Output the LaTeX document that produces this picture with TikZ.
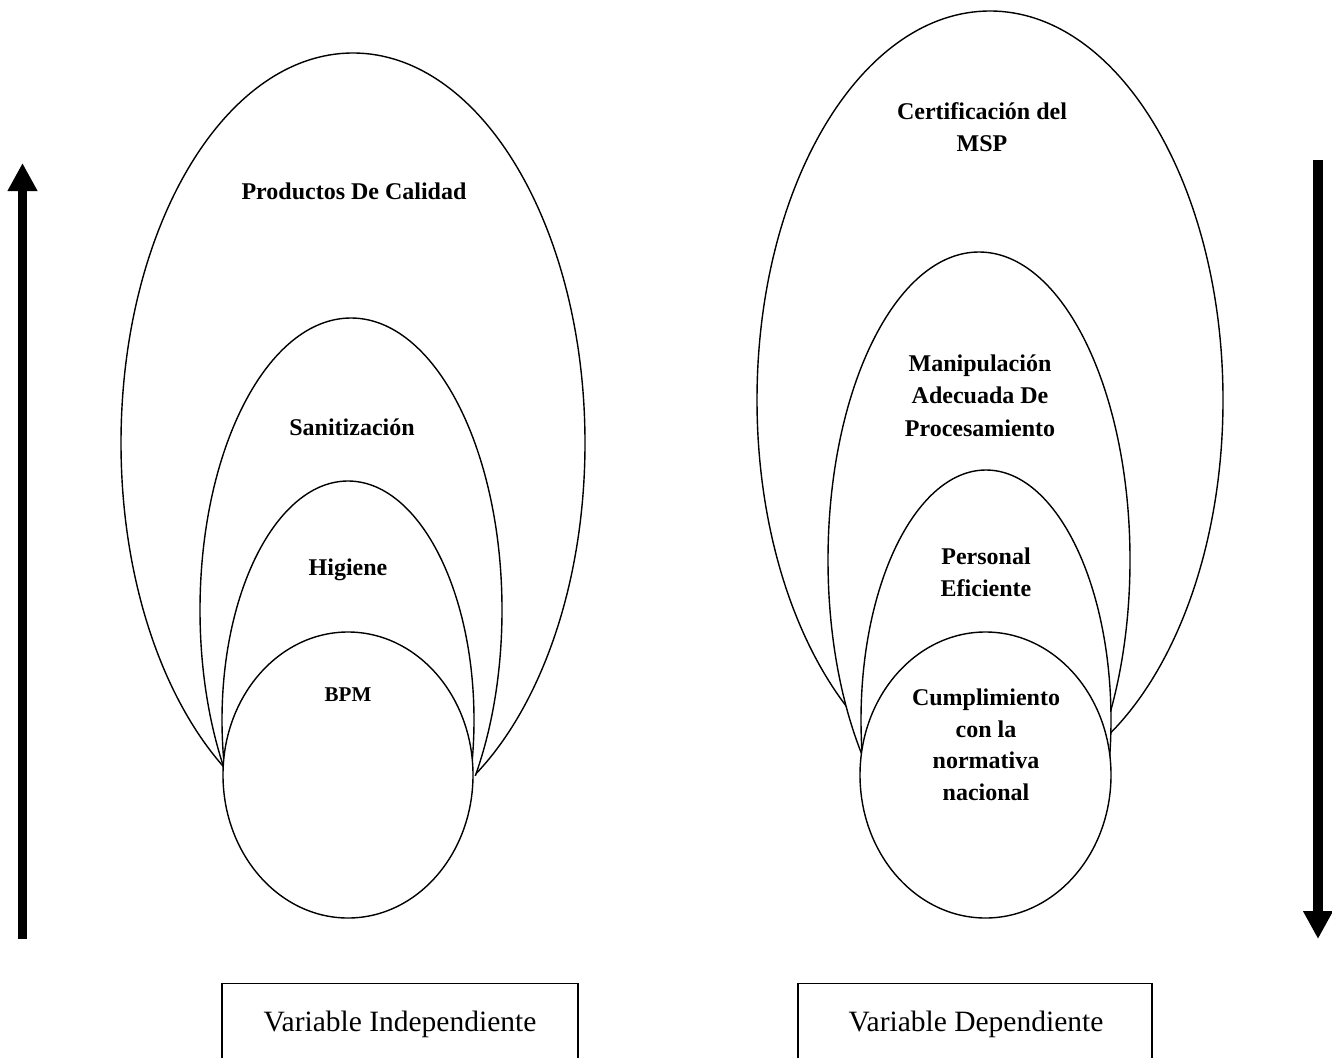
\documentclass[tikz,border=0pt]{standalone}
\usepackage{fontspec}
\setmainfont{Liberation Serif}
\usetikzlibrary{shapes.geometric,arrows.meta}
\begin{document}
\begin{tikzpicture}[x=1pt,y=-1pt,
  oval/.style={ellipse,draw,fill=white,line width=1.4pt,inner sep=0pt},
  lbl/.style={font=\bfseries\fontsize{24}{32.5}\selectfont,align=center,inner sep=0pt,anchor=base},
  smalllbl/.style={font=\bfseries\fontsize{21}{26}\selectfont,inner sep=0pt,anchor=base},
  boxlbl/.style={font=\fontsize{29.5}{34}\selectfont,inner sep=0pt,anchor=base},
  varbox/.style={draw,line width=1.4pt,minimum height=150pt,anchor=north,inner sep=0pt},
  bigarrow/.style={line width=9.6pt,-{Triangle[width=28pt,length=28pt]}}]
\useasboundingbox (0,0) rectangle (1332,1057);
\clip (0,0) rectangle (1332,1057);
\fill[white] (0,0) rectangle (1332,1057);
% outer ellipses, clipped above the centre of the inner circles
\begin{scope}
  \clip (0,0) rectangle (1332,775);
  \node[oval,minimum width=464pt,minimum height=780pt] (l1) at (353,443) {};
  \node[oval,minimum width=302pt,minimum height=584pt] (l2) at (351,610) {};
  \node[oval,minimum width=252pt,minimum height=478pt] (l3) at (348,720) {};
  \node[oval,minimum width=466pt,minimum height=778pt] (r1) at (990,400) {};
  \node[oval,minimum width=302pt,minimum height=616pt] (r2) at (979,560) {};
  \node[oval,minimum width=250pt,minimum height=500pt] (r3) at (986,720) {};
\end{scope}
\node[oval,minimum width=250pt,minimum height=286pt] (l4) at (348,775) {};
\node[oval,minimum width=251pt,minimum height=286pt] (r4) at (985.5,775) {};
% labels (base anchor = baseline of the last line)
\node[lbl] (t1) at (354,199) {Productos De Calidad};
\node[lbl] (t2) at (352,435) {Sanitización};
\node[lbl] (t3) at (348,575) {Higiene};
\node[smalllbl] (t4) at (348,701) {BPM};
\node[lbl] (s1) at (982,151.5) {Certificación del\\MSP};
\node[lbl] (s2) at (980,436) {Manipulación\\Adecuada De\\Procesamiento};
\node[lbl] (s3) at (986,596.5) {Personal\\Eficiente};
\node[lbl,font=\bfseries\fontsize{24}{31.5}\selectfont] (s4) at (986,800) {Cumplimiento\\con la\\normativa\\nacional};
% arrows
\coordinate (ua) at (22.5,939);
\coordinate (ub) at (22.5,163);
\coordinate (da) at (1318,160);
\coordinate (db) at (1318,939);
\draw[bigarrow] (ua) -- (ub);
\draw[bigarrow] (da) -- (db);
% boxes
\node[varbox,minimum width=356pt] (b1) at (400,983) {};
\node[varbox,minimum width=354pt] (b2) at (975,983) {};
\node[boxlbl] (bt1) at (400,1031) {Variable Independiente};
\node[boxlbl] (bt2) at (976,1031) {Variable Dependiente};
\end{tikzpicture}
\end{document}
